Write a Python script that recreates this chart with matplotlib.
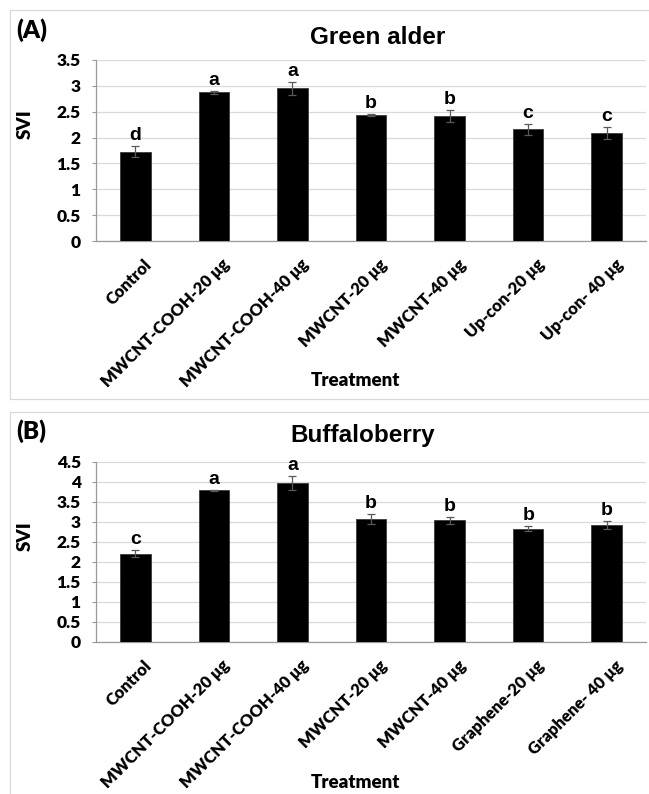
import matplotlib
matplotlib.use("Agg")
import matplotlib.pyplot as plt
import matplotlib.transforms as mtransforms
from matplotlib.patches import Rectangle
import numpy as np

# Seedling vigour index (SVI) per treatment, mean and error
labels_a = ["Control", "MWCNT-COOH-20 μg", "MWCNT-COOH-40 μg", "MWCNT-20 μg",
            "MWCNT-40 μg", "Up-con-20 μg", "Up-con- 40 μg"]
svi_a = [1.73, 2.88, 2.95, 2.44, 2.42, 2.16, 2.09]
err_a = [0.10, 0.03, 0.12, 0.02, 0.12, 0.11, 0.11]
letters_a = ["d", "a", "a", "b", "b", "c", "c"]

labels_b = ["Control", "MWCNT-COOH-20 μg", "MWCNT-COOH-40 μg", "MWCNT-20 μg",
            "MWCNT-40 μg", "Graphene-20 μg", "Graphene- 40 μg"]
svi_b = [2.21, 3.79, 3.97, 3.08, 3.04, 2.83, 2.92]
err_b = [0.08, 0.01, 0.18, 0.13, 0.08, 0.06, 0.10]
letters_b = ["c", "a", "a", "b", "b", "b", "b"]

W, H = 649, 794
LABEL_FONT = ["Lato", "DejaVu Sans"]
LABEL_WEIGHT = "heavy"
TITLE_FONT = ["Liberation Sans", "DejaVu Sans"]
GRID = "#d9d9d9"
AXIS = "#9a9a9a"

fig = plt.figure(figsize=(W / 100, H / 100), dpi=100)


def px_rect(x0, y0, x1, y1):
    # pixel box (top-left origin) -> figure fraction rect
    return [x0 / W, 1 - y1 / H, (x1 - x0) / W, (y1 - y0) / H]


def fig_text(x, y, s, **kw):
    fig.text(x / W, 1 - y / H, s, **kw)


def panel_frame(y0, y1):
    fig.patches.append(Rectangle((10 / W, 1 - y1 / H), 2.0, (y1 - y0) / H,
                                 transform=fig.transFigure, fill=False,
                                 ec=GRID, lw=0.9))


def draw_panel(box, values, errors, letters, labels, ymax):
    ax = fig.add_axes(px_rect(*box))
    x = np.arange(len(values))
    ax.bar(x, values, width=0.39, color="black", edgecolor="#3a3a3a",
           linewidth=0.6, zorder=3)
    ax.errorbar(x, values, yerr=errors, fmt="none", ecolor="#5a5a5a",
                elinewidth=0.9, capsize=2.6, capthick=0.9, zorder=4)
    for xi, v, e, t in zip(x, values, errors, letters):
        ax.annotate(t, (xi, v + e), xytext=(0, 6), textcoords="offset pixels",
                    ha="center", va="baseline", fontsize=14,
                    fontweight="bold", family=TITLE_FONT)

    ax.set_xlim(-0.5, len(values) - 0.5)
    ax.set_ylim(0, ymax)
    yt = np.arange(0, ymax + 0.01, 0.5)
    ax.set_yticks(yt)
    ax.set_yticklabels([f"{t:g}" for t in yt], fontsize=12.5,
                       fontweight=LABEL_WEIGHT, family=LABEL_FONT)
    ax.set_xticks(x)
    ax.set_xticklabels(labels, rotation=45, ha="right", rotation_mode="anchor",
                       fontsize=12, fontweight=LABEL_WEIGHT, family=LABEL_FONT)
    ax.tick_params(axis="x", length=0, pad=11)
    ax.tick_params(axis="y", length=3, width=0.8, color=AXIS, pad=8)
    shift = mtransforms.ScaledTranslation(0.08, 0, fig.dpi_scale_trans)
    for lbl in ax.get_xticklabels():
        lbl.set_transform(lbl.get_transform() + shift)

    ax.grid(axis="y", color=GRID, lw=0.9, zorder=0)
    ax.set_axisbelow(True)
    for side in ("top", "right"):
        ax.spines[side].set_visible(False)
    for side in ("left", "bottom"):
        ax.spines[side].set_color(AXIS)
        ax.spines[side].set_linewidth(0.9)
    return ax


panel_frame(10, 399)
panel_frame(412, 900)

draw_panel((96, 60, 646, 241), svi_a, err_a, letters_a, labels_a, 3.5)
draw_panel((96, 462, 646, 642), svi_b, err_b, letters_b, labels_b, 4.5)

# panel tags and titles
fig_text(16, 38, "(A)", fontsize=17.5, fontweight=LABEL_WEIGHT,
         family=LABEL_FONT, ha="left", va="baseline")
fig_text(16, 439, "(B)", fontsize=17.5, fontweight=LABEL_WEIGHT,
         family=LABEL_FONT, ha="left", va="baseline")
fig_text(378, 44, "Green alder", fontsize=17.5, fontweight="bold",
         family=TITLE_FONT, ha="center", va="baseline")
fig_text(363, 442, "Buffaloberry", fontsize=17.5, fontweight="bold",
         family=TITLE_FONT, ha="center", va="baseline")

# axis titles
for y in (381, 783):
    fig_text(355, y, "Treatment", fontsize=13.5, fontweight=LABEL_WEIGHT,
             family=LABEL_FONT, ha="center", va="center")
for y in (124, 536):
    fig_text(25, y, "SVI", fontsize=13.5, fontweight=LABEL_WEIGHT,
             family=LABEL_FONT, rotation=90, ha="center", va="center")

fig.savefig("out.png", dpi=100, facecolor="white")
